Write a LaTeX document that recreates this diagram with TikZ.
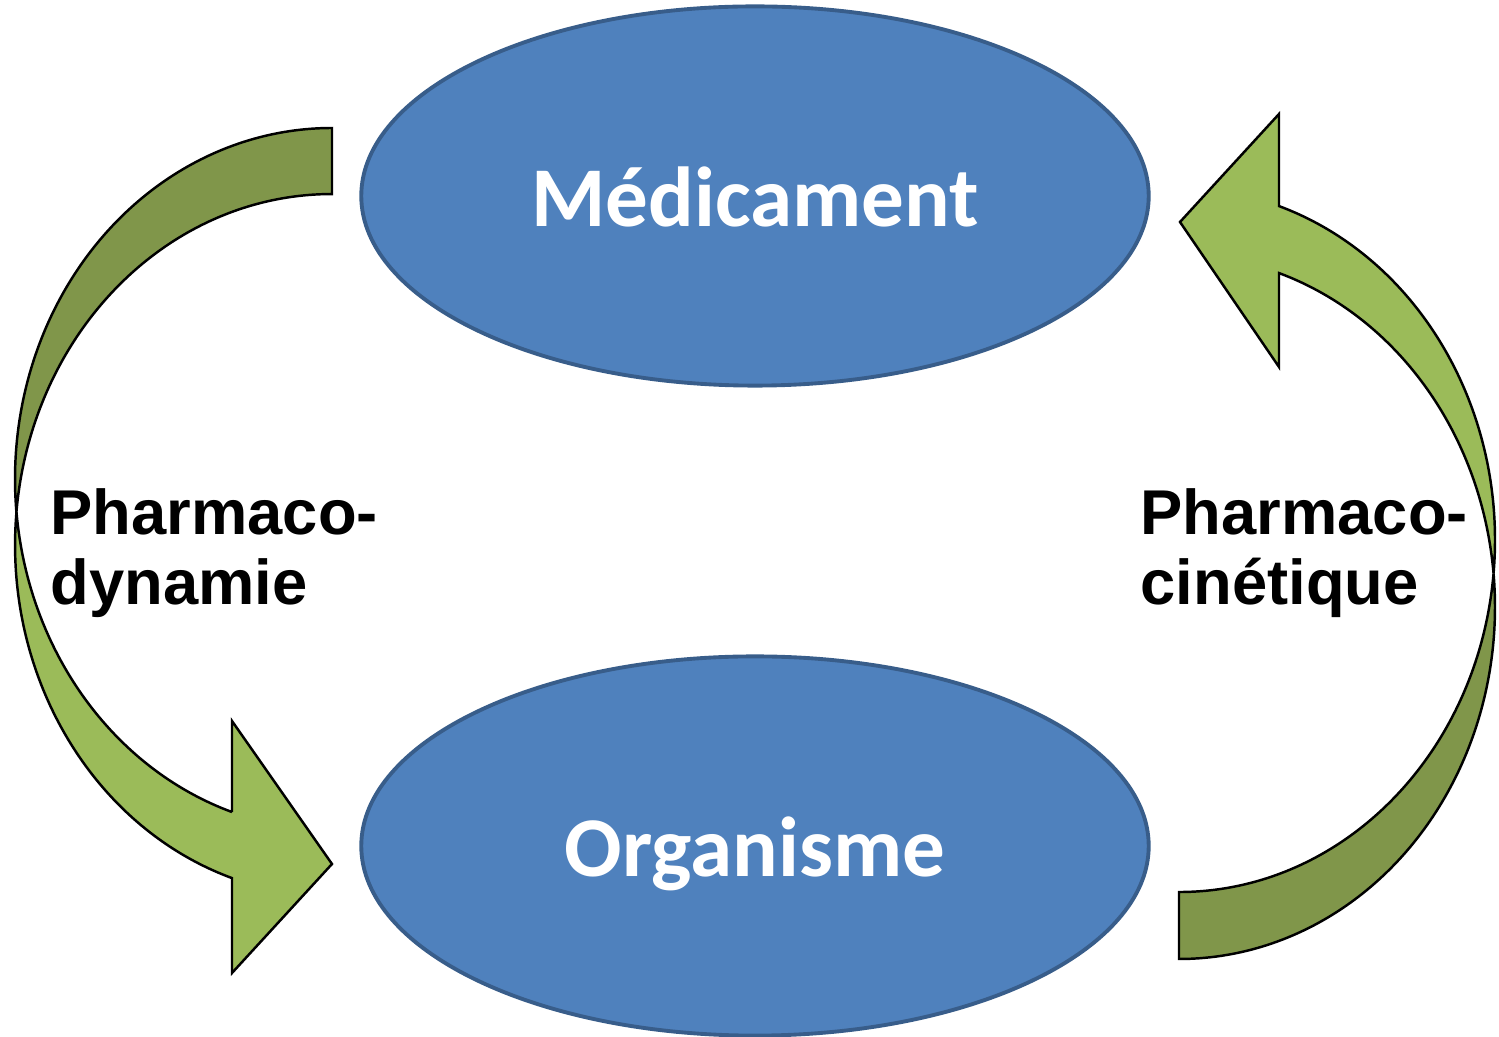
\documentclass[tikz,border=0pt]{standalone}
\usepackage{fontspec}
\usepackage{tikz}
\usetikzlibrary{shapes.geometric}
\newfontfamily\calibf{Carlito}
\newfontfamily\arialf{Liberation Sans}
\definecolor{blobfill}{HTML}{4F81BD}
\definecolor{blobline}{HTML}{385D8A}
\definecolor{greenlight}{HTML}{9BBB59}
\definecolor{greendark}{RGB}{128,150,74}
\begin{document}
\begin{tikzpicture}[x=0.01cm,y=-0.01cm,
	blob/.style={ellipse,draw=blobline,fill=blobfill,line width=1.1pt,
		minimum width=7.87cm,minimum height=3.79cm,inner sep=0pt,
		text height=0.6cm,text depth=0pt,
		text=white,font=\calibf\bfseries\fontsize{24.2}{28}\selectfont},
	lbl/.style={anchor=west,inner sep=0pt,align=left,
		font=\arialf\bfseries\fontsize{18}{20}\selectfont},
	back/.style={fill=greendark,draw=black,line width=0.7pt,line join=miter},
	front/.style={fill=greenlight,draw=black,line width=0.7pt,line join=miter}]
	\useasboundingbox (0,0) rectangle (1499,1037);
	% pharmacodynamie: Medicament -> Organisme
	\path[back] (332,128) arc[start angle=270,end angle=174.6,x radius=317,y radius=351]
		arc[start angle=185.4,end angle=270,x radius=317,y radius=351] -- cycle;
	\path[front] (232,812.1) -- (232,721) -- (332,864) -- (232,973) -- (232,878.1)
		arc[start angle=108.4,end angle=185.4,x radius=317,y radius=351]
		arc[start angle=174.6,end angle=108.4,x radius=317,y radius=351] -- cycle;
	% pharmacocinetique: Organisme -> Medicament
	\path[back] (1179,959) arc[start angle=90,end angle=-5.46,x radius=316,y radius=352]
		arc[start angle=5.46,end angle=90,x radius=316,y radius=352] -- cycle;
	\path[front] (1279,273.1) -- (1279,367) -- (1180,222) -- (1279,114) -- (1279,206.1)
		arc[start angle=-71.55,end angle=5.46,x radius=316,y radius=352]
		arc[start angle=-5.46,end angle=-71.55,x radius=316,y radius=352] -- cycle;
	\node[blob] (med) at (755,196) {Médicament};
	\node[blob] (org) at (755,846) {Organisme};
	\node[lbl] (dyn) at (50,553) {Pharmaco-\\dynamie};
	\node[lbl] (cin) at (1140,553) {Pharmaco-\\cinétique};
\end{tikzpicture}
\end{document}
